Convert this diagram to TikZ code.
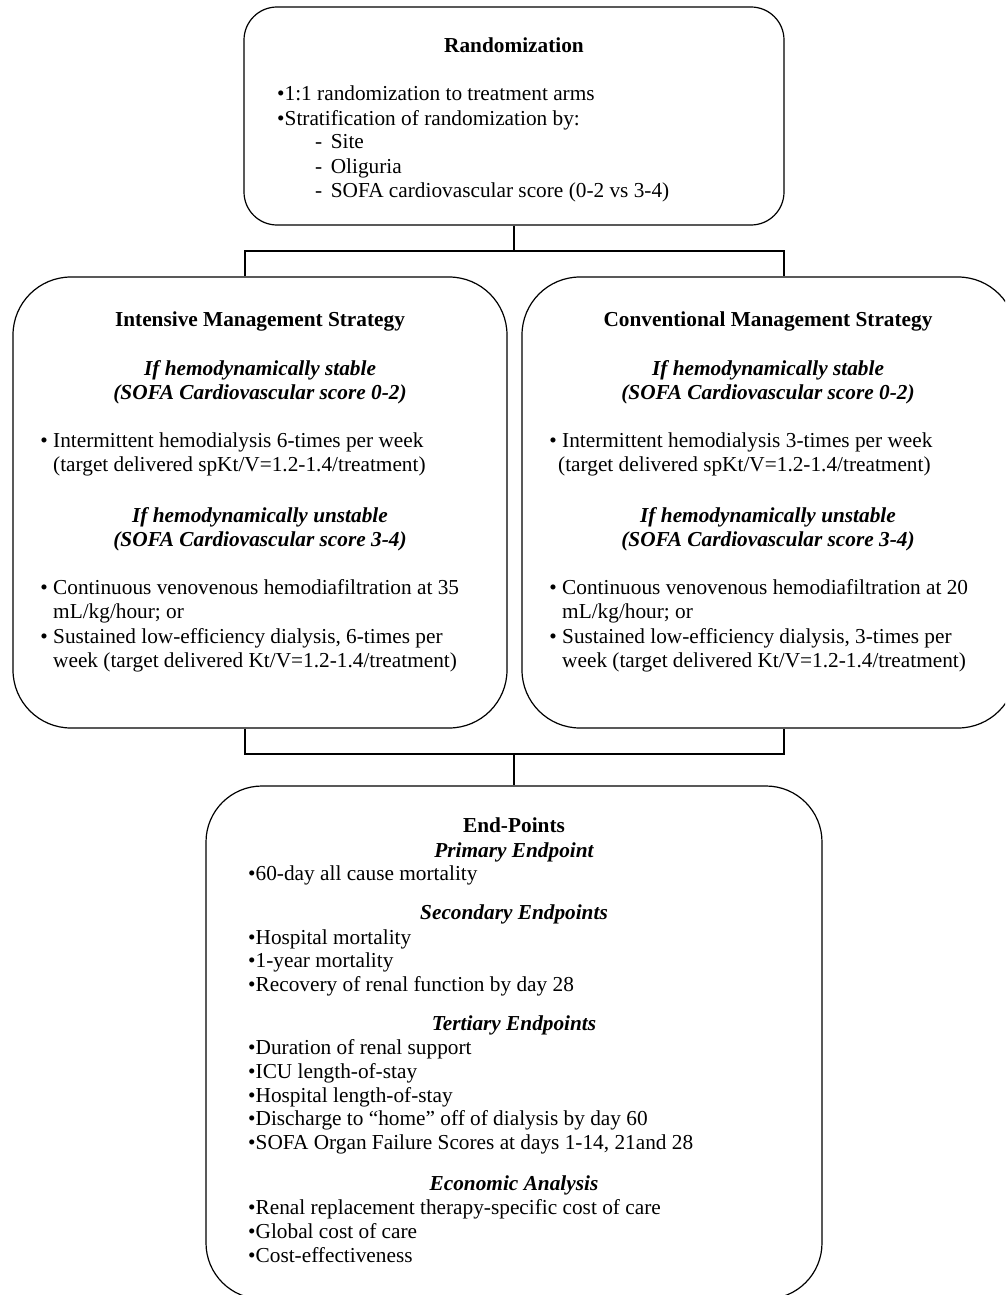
\documentclass[tikz,border=0pt]{standalone}
\usepackage{fontspec}
\setmainfont{Liberation Serif}
\begin{document}
\begin{tikzpicture}[x=1pt,y=-1pt,
  box/.style={draw, line width=1.2pt, inner sep=0pt, rectangle},
  conn/.style={line width=1.2pt},
  txt/.style={inner sep=0pt, font=\fontsize{21.3}{24}\selectfont},
  ctr/.style={txt, anchor=base},
  lft/.style={txt, anchor=base west},
  hd/.style={ctr, font=\fontsize{21.3}{24}\selectfont\bfseries},
  sub/.style={ctr, font=\fontsize{21.3}{24}\selectfont\bfseries\itshape},
  bul/.style={txt, anchor=base}
]
\useasboundingbox (0,0) rectangle (1005,1295);
\clip (0,0) rectangle (1005,1295);
\fill[white] (0,0) rectangle (1005,1295);

% boxes
\node[box, rounded corners=33pt, minimum width=540pt, minimum height=218pt] (rand) at (514,116) {};
\node[box, rounded corners=58pt, minimum width=494pt, minimum height=451pt] (left) at (260,502.5) {};
\node[box, rounded corners=58pt, minimum width=494pt, minimum height=451pt] (right) at (769,502.5) {};
\node[box, rounded corners=56pt, minimum width=616pt, minimum height=513pt] (endp) at (514,1042.5) {};

% connectors
\coordinate (tl) at (245,251);
\coordinate (tr) at (784,251);
\coordinate (bl) at (245,754);
\coordinate (br) at (784,754);
\draw[conn] (rand.south) -- (rand.south |- tl);
\draw[conn] (tl |- left.north) -- (tl) -- (tr) -- (tr |- right.north);
\draw[conn] (bl |- left.south) -- (bl) -- (br) -- (br |- right.south);
\draw[conn] (endp.north |- bl) -- (endp.north);

% Randomization text
\node[hd] (r0) at (514,53) {Randomization};
\node[lft] (r1) at (277,101) {\textbullet 1:1 randomization to treatment arms};
\node[lft] (r2) at (277,125) {\textbullet Stratification of randomization by:};
\node[lft] (r3) at (315,149) {-\hspace{8.5pt}Site};
\node[lft] (r4) at (315,173) {-\hspace{8.5pt}Oliguria};
\node[lft] (r5) at (315,197) {-\hspace{8.5pt}SOFA cardiovascular score (0-2 vs 3-4)};

% Intensive
\node[hd] (i0) at (260,326) {Intensive Management Strategy};
\node[sub] (i1) at (260,375) {If hemodynamically stable};
\node[sub] (i2) at (260,399) {(SOFA Cardiovascular score 0-2)};
\node[bul] (ib1) at (44,447) {\textbullet};
\node[lft] (i3) at (53,447) {Intermittent hemodialysis 6-times per week};
\node[lft] (i4) at (53,471) {(target delivered spKt/V=1.2-1.4/treatment)};
\node[sub] (i5) at (260,522) {If hemodynamically unstable};
\node[sub] (i6) at (260,546) {(SOFA Cardiovascular score 3-4)};
\node[bul] (ib2) at (44,594) {\textbullet};
\node[lft] (i7) at (53,594) {Continuous venovenous hemodiafiltration at 35};
\node[lft] (i8) at (53,618) {mL/kg/hour; or};
\node[bul] (ib3) at (44,643) {\textbullet};
\node[lft] (i9) at (53,643) {Sustained low-efficiency dialysis, 6-times per};
\node[lft] (i10) at (53,667) {week (target delivered Kt/V=1.2-1.4/treatment)};

% Conventional
\node[hd] (c0) at (768,326) {Conventional Management Strategy};
\node[sub] (c1) at (768,375) {If hemodynamically stable};
\node[sub] (c2) at (768,399) {(SOFA Cardiovascular score 0-2)};
\node[bul] (cb1) at (553,447) {\textbullet};
\node[lft] (c3) at (562,447) {Intermittent hemodialysis 3-times per week};
\node[lft] (c4) at (558,471) {(target delivered spKt/V=1.2-1.4/treatment)};
\node[sub] (c5) at (768,522) {If hemodynamically unstable};
\node[sub] (c6) at (768,546) {(SOFA Cardiovascular score 3-4)};
\node[bul] (cb2) at (553,594) {\textbullet};
\node[lft] (c7) at (562,594) {Continuous venovenous hemodiafiltration at 20};
\node[lft] (c8) at (562,618) {mL/kg/hour; or};
\node[bul] (cb3) at (553,643) {\textbullet};
\node[lft] (c9) at (562,643) {Sustained low-efficiency dialysis, 3-times per};
\node[lft] (c10) at (562,667) {week (target delivered Kt/V=1.2-1.4/treatment)};

% End-points
\node[hd] (e0) at (514,832) {End-Points};
\node[sub] (e1) at (514,857) {Primary Endpoint};
\node[lft] (e2) at (248,880) {\textbullet 60-day all cause mortality};
\node[sub] (e3) at (514,919) {Secondary Endpoints};
\node[lft] (e4) at (248,944) {\textbullet Hospital mortality};
\node[lft] (e5) at (248,967) {\textbullet 1-year mortality};
\node[lft] (e6) at (248,991) {\textbullet Recovery of renal function by day 28};
\node[sub] (e7) at (514,1030) {Tertiary Endpoints};
\node[lft] (e8) at (248,1054) {\textbullet Duration of renal support};
\node[lft] (e9) at (248,1078) {\textbullet ICU length-of-stay};
\node[lft] (e10) at (248,1102) {\textbullet Hospital length-of-stay};
\node[lft] (e11) at (248,1125) {\textbullet Discharge to “home” off of dialysis by day 60};
\node[lft] (e12) at (248,1149) {\textbullet SOFA Organ Failure Scores at days 1-14, 21and 28};
\node[sub] (e13) at (514,1190) {Economic Analysis};
\node[lft] (e14) at (248,1214) {\textbullet Renal replacement therapy-specific cost of care};
\node[lft] (e15) at (248,1238) {\textbullet Global cost of care};
\node[lft] (e16) at (248,1262) {\textbullet Cost-effectiveness};
\end{tikzpicture}
\end{document}
